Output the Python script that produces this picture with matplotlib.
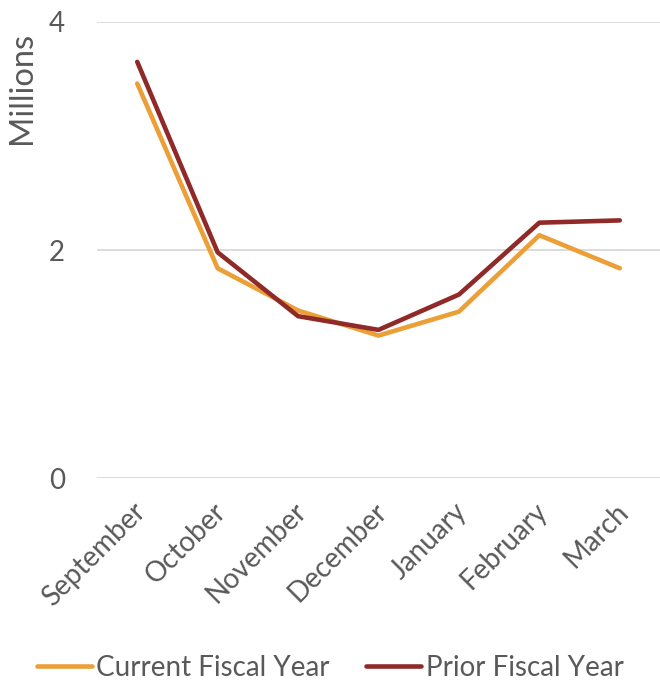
import matplotlib.pyplot as plt
import matplotlib.transforms as mtrans
from matplotlib.lines import Line2D

# ==========================================================
# DATA
# ==========================================================

months = ["September", "October", "November", "December",
          "January", "February", "March"]
current_fy = [3.46, 1.84, 1.47, 1.25, 1.46, 2.13, 1.84]
prior_fy = [3.65, 1.98, 1.42, 1.30, 1.61, 2.24, 2.26]

yticks = [0, 2, 4]

ORANGE = "#EC9F37"
DARK_RED = "#902A28"
TEXT = "#595959"
GRID = "#D9D9D9"

plt.rcParams["font.family"] = ["Lato", "DejaVu Sans"]

# ==========================================================
# PLOT
# ==========================================================

fig = plt.figure(figsize=(6.6, 6.86), dpi=100)
ax = fig.add_axes([0.147, 0.303, 0.853, 0.665])

x = range(len(months))
ax.plot(x, current_fy, color=ORANGE, lw=3.3, solid_capstyle="round",
        label="Current Fiscal Year")
ax.plot(x, prior_fy, color=DARK_RED, lw=3.3, solid_capstyle="round",
        label="Prior Fiscal Year")

ax.set_xlim(-0.5, len(months) - 0.5)
ax.set_ylim(0, 4)
ax.set_yticks(yticks)
ax.set_yticklabels([str(v) for v in yticks])
ax.yaxis.grid(True, color=GRID, lw=1.3)
ax.set_axisbelow(True)

for s in ax.spines.values():
    s.set_visible(False)

ax.tick_params(axis="both", length=0, labelsize=20, labelcolor=TEXT)
ax.tick_params(axis="y", pad=23)

ax.set_xticks(list(x))
ax.set_xticklabels(months, rotation=45, ha="right", va="center",
                   rotation_mode="anchor")
ax.tick_params(axis="x", pad=21)
# nudge labels so the word ends sit just right of each tick, like Excel
offset = mtrans.ScaledTranslation(3 / 72, 0, fig.dpi_scale_trans)
for lbl in ax.get_xticklabels():
    lbl.set_transform(lbl.get_transform() + offset)

fig.text(22 / 660, 1 - 88 / 686, "Millions", rotation=90, ha="center",
         va="center", fontsize=23.5, color=TEXT)

handles = [
    Line2D([0], [0], color=ORANGE, lw=3.3, solid_capstyle="round"),
    Line2D([0], [0], color=DARK_RED, lw=3.3, solid_capstyle="round"),
]
fig.legend(handles, ["Current Fiscal Year", "Prior Fiscal Year"],
           loc="center", bbox_to_anchor=(0.5, 1 - 668 / 686), ncol=2,
           frameon=False, fontsize=20, labelcolor=TEXT,
           handlelength=2.0, handletextpad=0.15, columnspacing=1.3)

fig.savefig("out.png", dpi=100)
